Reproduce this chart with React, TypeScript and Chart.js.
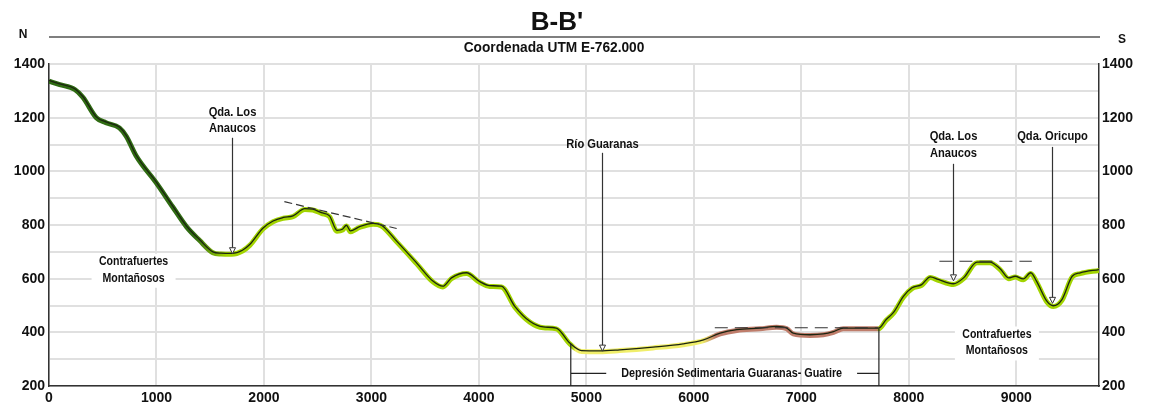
import React, { useEffect, useRef } from "react";
import { Chart, registerables } from "chart.js";

Chart.register(...registerables);

// ---- Data ----
const distances = [
  0, 100, 240, 315, 440, 530, 655, 720, 810, 1000, 1150, 1280, 1400, 1525, 1600, 1700, 1800, 1870, 1990,
  2085, 2180, 2270, 2380, 2455, 2535, 2610, 2680, 2730, 2767, 2804, 2890, 3015, 3095, 3235, 3420, 3575,
  3665, 3745, 3885, 4005, 4100, 4210, 4334, 4474, 4600, 4720, 4846, 4955, 5125, 5310, 5620, 5900, 6090,
  6245, 6400, 6615, 6770, 6865, 6925, 7080, 7205, 7300, 7390, 7515, 7720, 7790, 7860, 7950, 8030, 8120,
  8200, 8275, 8415, 8510, 8635, 8755, 8850, 8930, 8990, 9065, 9135, 9190, 9285, 9345, 9425, 9520, 9595, 9770,
];
const elevations = [
  1336, 1323, 1305, 1276, 1200, 1181, 1162, 1130, 1058, 956, 868, 793, 743, 697, 692, 691, 703, 725, 785,
  812, 825, 831, 858, 856, 843, 831, 777, 781, 796, 775, 791, 803, 796, 737, 656, 587,
  569, 600, 619, 587, 571, 569, 494, 438, 417, 413, 357, 329, 328, 332, 342, 354, 369,
  394, 407, 413, 419, 413, 394, 388, 391, 400, 413, 413, 413, 445, 472, 531, 563, 575,
  604, 594, 578, 600, 659, 659, 634, 600, 606, 596, 619, 587, 513, 496, 519, 606, 619, 631,
];

const xMin = 0;
const xMax = 9770;
const yMin = 200;
const yMax = 1400;
const xTickLabels = [0, 1000, 2000, 3000, 4000, 5000, 6000, 7000, 8000, 9000];
const yGridValues = [200, 300, 400, 500, 600, 700, 800, 900, 1000, 1100, 1200, 1300, 1400];
const yTickLabels = [200, 400, 600, 800, 1000, 1200, 1400];

// colour zones along the profile
const colorStopDist = [0, 1350, 1650, 4870, 4900, 6080, 6200, 7700, 7730, 9770];
const colorStopColor = ["#2f6b12", "#2f6b12", "#a2d400", "#a2d400", "#f0ee6a", "#f0ee6a", "#bf7d6b", "#bf7d6b", "#a2d400", "#a2d400"];

// dashed reference lines
const dashSlopeX = [2190, 3235];
const dashSlopeY = [887, 787];
const dashBasinX = [6195, 7715];
const dashBasinY = [417, 417];
const dashEastX = [8285, 9145];
const dashEastY = [665, 665];

// arrows with labels
const arrowX = [1705, 5142, 8410, 9331];
const arrowTop = [1125, 1069, 1028, 1091];
const arrowTip = [693, 330, 592, 508];
const arrowLabels = [["Qda. Los", "Anaucos"], ["Río Guaranas"], ["Qda. Los", "Anaucos"], ["Qda. Oricupo"]];
const arrowLabelY = [1220, 1099, 1129, 1129];

// region labels
const regionLabels = [["Contrafuertes", "Montañosos"], ["Contrafuertes", "Montañosos"]];
const regionX = [787, 8820];
const regionY = [663, 392];

// basin bracket
const bracketX = [4855, 7722];
const bracketTopY = [357, 413];
const bracketLineY = 247;
const bracketLabel = "Depresión Sedimentaria Guaranas- Guatire";
const bracketLabelX = 6352;

const title = "B-B'";
const subtitle = "Coordenada UTM E-762.000";

const FONT = "'Liberation Sans', Arial, Helvetica, sans-serif";

function drawText(ctx: CanvasRenderingContext2D, text: string, x: number, y: number, font: string, align: CanvasTextAlign = "center", sx = 1, color = "#111") {
  ctx.save();
  ctx.font = font;
  ctx.fillStyle = color;
  ctx.textAlign = align;
  ctx.textBaseline = "middle";
  ctx.translate(x, y);
  ctx.scale(sx, 1);
  ctx.fillText(text, 0, 0);
  ctx.restore();
}

const overlayPlugin = {
  id: "overlay",
  beforeDatasetsDraw(chart: any) {
    const ctx: CanvasRenderingContext2D = chart.ctx;
    const xs = chart.scales.x;
    const ys = chart.scales.y;
    const font = `bold 12px ${FONT}`;
    regionLabels.forEach((lines, i) => {
      const cx = xs.getPixelForValue(regionX[i]);
      const cy = ys.getPixelForValue(regionY[i]);
      ctx.save();
      ctx.fillStyle = "#fff";
      ctx.fillRect(cx - 42, cy - 8, 84, 34);
      ctx.restore();
      lines.forEach((t, j) => drawText(ctx, t, cx, cy + j * 16.5, font, "center", 0.88));
    });
  },
  beforeDatasetDraw(chart: any, args: any) {
    if (args.index === 1) {
      chart.ctx.save();
      chart.ctx.translate(0, -0.8);
    }
  },
  afterDatasetDraw(chart: any, args: any) {
    if (args.index === 1) chart.ctx.restore();
  },
  afterDatasetsDraw(chart: any) {
    const ctx: CanvasRenderingContext2D = chart.ctx;
    const xs = chart.scales.x;
    const ys = chart.scales.y;
    const font = `bold 12px ${FONT}`;
    // arrows
    arrowX.forEach((ax, i) => {
      const px = Math.round(xs.getPixelForValue(ax)) + 0.5;
      const top = ys.getPixelForValue(arrowTop[i]);
      const tip = ys.getPixelForValue(arrowTip[i]);
      ctx.save();
      ctx.strokeStyle = "#333";
      ctx.lineWidth = 1.2;
      ctx.beginPath();
      ctx.moveTo(px, top);
      ctx.lineTo(px, tip - 6);
      ctx.stroke();
      ctx.beginPath();
      ctx.moveTo(px - 3, tip - 6);
      ctx.lineTo(px + 3, tip - 6);
      ctx.lineTo(px, tip);
      ctx.closePath();
      ctx.fillStyle = "#fff";
      ctx.fill();
      ctx.lineWidth = 1;
      ctx.stroke();
      ctx.restore();
      const ly = ys.getPixelForValue(arrowLabelY[i]);
      arrowLabels[i].forEach((t, j) => drawText(ctx, t, px, ly + j * 16.5, font, "center", 0.93));
    });
    // bracket
    const bl = xs.getPixelForValue(bracketX[0]);
    const br = xs.getPixelForValue(bracketX[1]);
    const bottom = chart.chartArea.bottom;
    const ly = ys.getPixelForValue(bracketLineY);
    ctx.save();
    ctx.strokeStyle = "#222";
    ctx.lineWidth = 1.2;
    ctx.beginPath();
    ctx.moveTo(bl, ys.getPixelForValue(bracketTopY[0]));
    ctx.lineTo(bl, bottom);
    ctx.moveTo(br, ys.getPixelForValue(bracketTopY[1]));
    ctx.lineTo(br, bottom);
    ctx.font = font;
    const sx = 0.9;
    const tw = ctx.measureText(bracketLabel).width * sx;
    const tcx = xs.getPixelForValue(bracketLabelX);
    ctx.moveTo(bl, ly);
    ctx.lineTo(tcx - tw / 2 - 15, ly);
    ctx.moveTo(tcx + tw / 2 + 15, ly);
    ctx.lineTo(br, ly);
    ctx.stroke();
    ctx.restore();
    drawText(ctx, bracketLabel, tcx, ly, font, "center", sx);
  },
  afterDraw(chart: any) {
    const ctx: CanvasRenderingContext2D = chart.ctx;
    const { left, right } = chart.chartArea;
    ctx.save();
    ctx.strokeStyle = "#555";
    ctx.lineWidth = 1.5;
    ctx.beginPath();
    ctx.moveTo(left, 37);
    ctx.lineTo(right + 1, 37);
    ctx.stroke();
    ctx.restore();
    drawText(ctx, title, 557, 23, `bold 26px ${FONT}`, "center", 1, "#111");
    drawText(ctx, subtitle, 554, 48, `bold 14px ${FONT}`, "center", 0.98, "#111");
    drawText(ctx, "N", 23, 35, `bold 12px ${FONT}`, "center", 1, "#111");
    drawText(ctx, "S", 1122, 40, `bold 12px ${FONT}`, "center", 1, "#111");
  },
};

export default function App() {
  const ref = useRef<HTMLCanvasElement | null>(null);
  useEffect(() => {
    if (!ref.current) return;
    const points = distances.map((d, i) => ({ x: d, y: elevations[i] }));
    const tickFont = { family: FONT, size: 14, weight: "bold" as const };
    const gradientColor = (c: any) => {
      const chart = c.chart;
      if (!chart.chartArea) return "#a2d400";
      const xs = chart.scales.x;
      const x0 = xs.getPixelForValue(xMin);
      const x1 = xs.getPixelForValue(xMax);
      const g = chart.ctx.createLinearGradient(x0, 0, x1, 0);
      colorStopDist.forEach((d, i) => g.addColorStop((d - xMin) / (xMax - xMin), colorStopColor[i]));
      return g;
    };
    const dashed = (xsArr: number[], ysArr: number[], dash: number[]) => ({
      type: "line" as const,
      data: xsArr.map((x, i) => ({ x, y: ysArr[i] })),
      borderColor: "#333",
      borderWidth: 1.2,
      borderDash: dash,
      pointRadius: 0,
      fill: false,
      tension: 0,
      order: 0,
    });
    const yTicks = (s: any) => {
      s.ticks = yGridValues.map((v) => ({ value: v }));
    };
    const chart = new Chart(ref.current, {
      type: "line",
      data: {
        datasets: [
          {
            data: points,
            borderColor: gradientColor,
            borderWidth: 5,
            pointRadius: 0,
            cubicInterpolationMode: "monotone",
            fill: false,
            order: 2,
          } as any,
          {
            data: points,
            borderColor: "#1b2410",
            borderWidth: 1.3,
            pointRadius: 0,
            cubicInterpolationMode: "monotone",
            fill: false,
            order: 1,
          } as any,
          dashed(dashSlopeX, dashSlopeY, [8, 4]),
          dashed(dashBasinX, dashBasinY, [13, 7]),
          dashed(dashEastX, dashEastY, [13, 7]),
        ],
      },
      options: {
        animation: false,
        responsive: false,
        maintainAspectRatio: false,
        layout: { padding: { top: 64, left: 0, right: 0, bottom: 0 } },
        plugins: { legend: { display: false }, tooltip: { enabled: false }, title: { display: false } },
        scales: {
          x: {
            type: "linear",
            min: xMin,
            max: xMax,
            afterBuildTicks: (s: any) => {
              s.ticks = xTickLabels.map((v) => ({ value: v }));
            },
            ticks: {
              autoSkip: false,
              maxRotation: 0,
              font: tickFont,
              color: "#111",
              padding: 4,
              callback: (v: any) => String(v),
            },
            grid: { color: "#e0e0e0", lineWidth: 2, drawTicks: false },
            border: { color: "#333", width: 1.5 },
            afterFit: (s: any) => {
              s.height = 23;
            },
          },
          y: {
            type: "linear",
            position: "left",
            min: yMin,
            max: yMax,
            afterBuildTicks: yTicks,
            ticks: {
              autoSkip: false,
              font: tickFont,
              color: "#111",
              padding: 4,
              callback: (v: any) => (yTickLabels.includes(Number(v)) ? String(v) : ""),
            },
            grid: { color: "#e0e0e0", lineWidth: 2, drawTicks: false },
            border: { color: "#333", width: 1.5 },
            afterFit: (s: any) => {
              s.width = 49;
            },
          },
          y2: {
            type: "linear",
            position: "right",
            min: yMin,
            max: yMax,
            afterBuildTicks: yTicks,
            ticks: {
              autoSkip: false,
              font: tickFont,
              color: "#111",
              padding: 3,
              callback: (v: any) => (yTickLabels.includes(Number(v)) ? String(v) : ""),
            },
            grid: { display: false, drawTicks: false },
            border: { color: "#333", width: 1.5 },
            afterFit: (s: any) => {
              s.width = 51;
            },
          },
        },
      } as any,
      plugins: [overlayPlugin],
    });
    return () => chart.destroy();
  }, []);
  return (
    <div style={{ position: "absolute", left: 0, top: 0, width: 1150, height: 409, background: "#fff" }}>
      <canvas ref={ref} width={1150} height={409} style={{ width: 1150, height: 409 }} />
    </div>
  );
}
